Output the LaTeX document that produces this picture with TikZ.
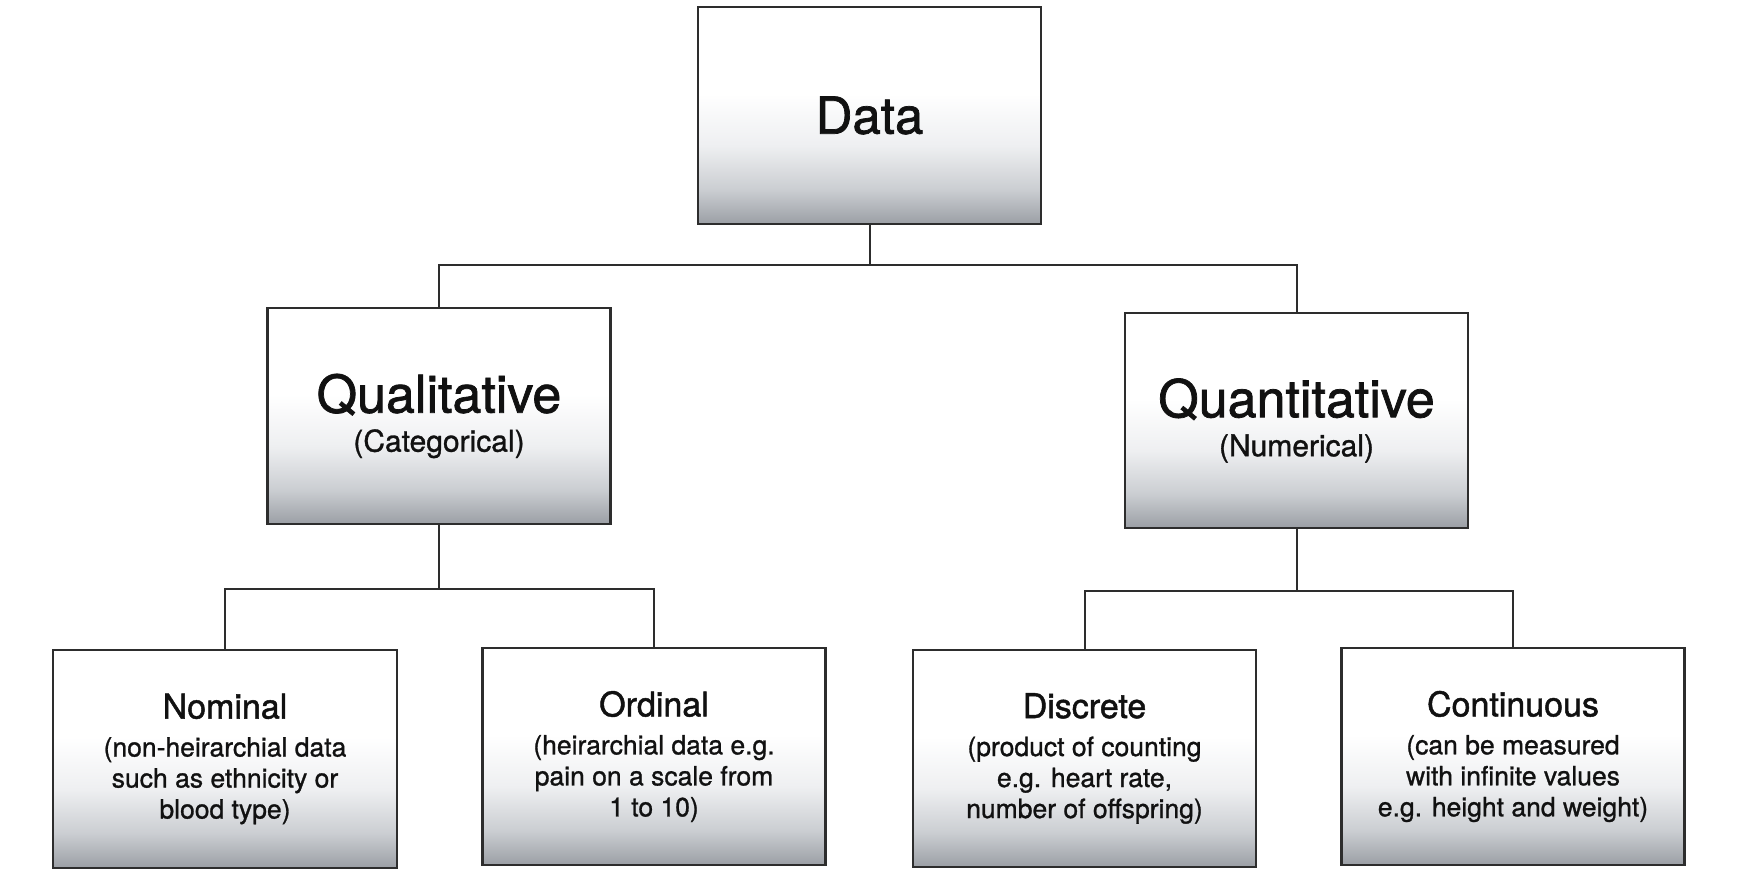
\documentclass[tikz,border=0pt]{standalone}
\usepackage{fontspec}
\setmainfont{TeX Gyre Heros}[FakeBold=1.0]
\newfontfamily\titlefont{TeX Gyre Heros}[FakeBold=1.4]
\definecolor{shbot}{RGB}{155,159,165}
\definecolor{shmid}{RGB}{203,206,210}
\definecolor{shlite}{RGB}{238,239,241}
\definecolor{edge}{RGB}{45,45,45}
\definecolor{ink}{RGB}{17,17,17}
\pgfdeclareverticalshading{boxshade}{100bp}{color(0bp)=(shbot); color(25bp)=(shbot); color(33bp)=(shmid); color(43bp)=(shlite); color(55bp)=(white); color(100bp)=(white)}
\tikzset{
  box/.style={draw=edge, line width=2.4pt, shading=boxshade, rectangle, inner sep=0pt,
    minimum width=343pt, minimum height=217pt, align=center, text=ink},
  bigbox/.style={box, font=\fontsize{30}{39}\selectfont},
  leafbox/.style={box, font=\fontsize{26.5}{31}\selectfont},
  link/.style={draw=edge, line width=2pt}
}
\begin{document}
\begin{tikzpicture}[x=1pt,y=-1pt]
\useasboundingbox (0,0) rectangle (1738,880);
\fill[white] (0,0) rectangle (1738,880);
\node[box, font=\titlefont\fontsize{51}{51}\selectfont] (data) at (869.5,115.5) {Data};
\node[bigbox, minimum height=216pt] (qual) at (439,416) {{\titlefont\fontsize{52}{52}\selectfont Qualitative}\\(Categorical)};
\node[bigbox, minimum height=215pt] (quant) at (1296.5,420.5) {{\titlefont\fontsize{52}{52}\selectfont Quantitative}\\(Numerical)};
\node[leafbox, minimum width=344pt, minimum height=218pt] (nom) at (225,759) {{\titlefont\fontsize{34}{36}\selectfont Nominal}\\[7pt](non-heirarchial data\\such as ethnicity or\\blood type)};
\node[leafbox] (ord) at (654,756.5) {{\titlefont\fontsize{34}{36}\selectfont Ordinal}\\[7pt](heirarchial data e.g.\\pain on a scale from\\1 to 10)};
\node[leafbox] (disc) at (1084.5,758.5) {{\titlefont\fontsize{34}{36}\selectfont Discrete}\\[7pt](product of counting\\e.g. heart rate,\\number of offspring)};
\node[leafbox] (cont) at (1513,756.5) {{\titlefont\fontsize{34}{36}\selectfont Continuous}\\[7pt](can be measured\\with infinite values\\e.g. height and weight)};
\coordinate (j1) at (869.5,265);
\coordinate (j2) at (439,589);
\coordinate (j3) at (1296.5,591);
\draw[link] (data.south) -- (j1);
\draw[link] (qual.north) |- (j1) -| (quant.north);
\draw[link] (qual.south) -- (j2);
\draw[link] (nom.north) |- (j2) -| (ord.north);
\draw[link] (quant.south) -- (j3);
\draw[link] (disc.north) |- (j3) -| (cont.north);
\end{tikzpicture}
\end{document}
